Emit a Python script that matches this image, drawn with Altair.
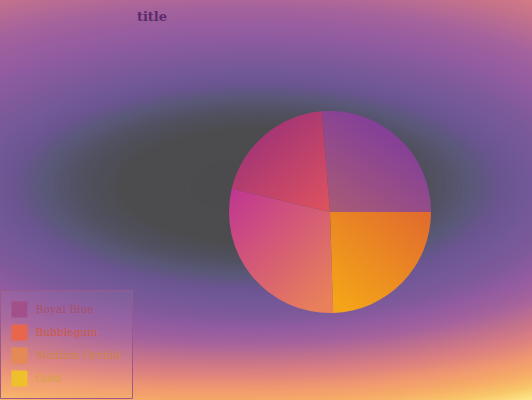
import math
import altair as alt
import numpy as np
import pandas as pd

# ---------------- data ----------------
TITLE = "title"
CATEGORIES = ["Royal Blue", "Bubblegum", "Medium Orchid", "Gold"]
SHARES = [26.3, 20.0, 29.2, 24.5]

# ---------------- styles ----------------
SWATCH_COLORS = ["#a2508a", "#e8664c", "#e58a56", "#eec12c"]
LABEL_COLORS = ["#a8506a", "#cf5c44", "#d08448", "#d4a43c"]
SLICE_GRADIENTS = [
    ((0.8, 0.0, 0.1, 1.0), "#7a38a2", "#a85a76"),
    ((0.2, 0.0, 1.0, 1.0), "#972f7a", "#e0525e"),
    ((0.0, 0.0, 0.8, 1.0), "#bf3592", "#e8805a"),
    ((1.0, 0.0, 0.2, 1.0), "#e06a2e", "#f4a418"),
]
# background gradient: colour stops by vertical radius (px) of the bands
BG_R = [0, 58, 75, 90, 103, 115, 130, 145, 160, 170, 188, 210, 232, 250, 268, 285, 300]
BG_COLORS = ["#4b4b4e", "#4c4c4f", "#505060", "#5a5878", "#6a5590", "#725898",
             "#7e5a9a", "#8e5ba0", "#9c5f9e", "#a6639c", "#c0708e", "#dc8080",
             "#f09870", "#f6aa68", "#f9c468", "#fde88a", "#fff6a0"]
BG_CENTER = (258.0, 186.0)
BG_ASPECT = 2.4
BG_DRIFT_START = 130.0
BG_DRIFT = (-0.45, -0.28)


def hex_rgb(h):
    h = h.lstrip("#")
    return [int(h[i:i + 2], 16) for i in (0, 2, 4)]


def band_path(p):
    ang = np.linspace(0, 2 * np.pi, 73)[:-1]
    c, s = np.cos(ang), np.sin(ang)
    xs = np.sign(c) * np.abs(c) ** (2 / p)
    ys = np.sign(s) * np.abs(s) ** (2 / p) / BG_ASPECT
    pts = ["{:.4f},{:.4f}".format(x, y) for x, y in zip(xs, ys)]
    return "M" + "L".join(pts) + "Z"


# background: stacked bands forming a smooth off-centre elliptical gradient
rgbs = [hex_rgb(c) for c in BG_COLORS]
rows = []
for k, r in enumerate(np.linspace(340, 1, 150)):
    rgb = [int(round(np.interp(r, BG_R, [c[i] for c in rgbs]))) for i in range(3)]
    drift = max(0.0, r - BG_DRIFT_START)
    p = 2.0 + 0.3 * float(np.clip((r - 120.0) / 90.0, 0.0, 1.0))
    rows.append({
        "k": k,
        "cx": BG_CENTER[0] + BG_DRIFT[0] * drift,
        "cy": BG_CENTER[1] + BG_DRIFT[1] * drift,
        "s": (2 * BG_ASPECT * r) ** 2,
        "c": "#%02x%02x%02x" % tuple(rgb),
        "shape": band_path(p),
    })
bg_df = pd.DataFrame(rows)

bg = alt.Chart(bg_df).mark_point(
    filled=True, opacity=1, strokeWidth=0
).encode(
    x=alt.X("cx:Q", scale=None, axis=None),
    y=alt.Y("cy:Q", scale=None, axis=None),
    size=alt.Size("s:Q", scale=None, legend=None),
    fill=alt.Fill("c:N", scale=None, legend=None),
    shape=alt.Shape("shape:N", scale=None, legend=None),
    order=alt.Order("k:Q"),
)

pie_df = pd.DataFrame({"category": CATEGORIES, "share": SHARES,
                       "idx": list(range(len(CATEGORIES)))})

conds = []
for cat, ((x1, y1, x2, y2), c0, c1) in zip(CATEGORIES, SLICE_GRADIENTS):
    conds.append({
        "test": f"datum.category === '{cat}'",
        "value": {"gradient": "linear", "x1": x1, "y1": y1, "x2": x2, "y2": y2,
                  "stops": [{"offset": 0, "color": c0}, {"offset": 1, "color": c1}]},
    })

label_expr = " : ".join(
    f"datum.value === '{c}' ? '{lc}'" for c, lc in zip(CATEGORIES, LABEL_COLORS)
) + " : '#a05060'"

pie = alt.Chart(pie_df).mark_arc(radius=101).encode(
    theta=alt.Theta("share:Q", stack=True,
                    scale=alt.Scale(range=[math.pi / 2, math.pi / 2 - 2 * math.pi])),
    order=alt.Order("idx:Q"),
    color=alt.Color(
        "category:N",
        sort=CATEGORIES,
        scale=alt.Scale(domain=CATEGORIES, range=SWATCH_COLORS),
        legend=alt.Legend(
            title=None, orient="none", legendX=0, legendY=290,
            symbolType="square", symbolSize=256, symbolStrokeWidth=0,
            symbolOpacity=1, rowPadding=7, labelOffset=8,
            labelFont="DejaVu Serif", labelFontSize=10.7, labelFontWeight="normal",
            labelColor={"expr": label_expr}, labelLimit=300,
            padding=11.5, strokeColor="#9a5a8e",
            fillColor="rgba(255,235,220,0.05)", cornerRadius=0,
        ),
        condition=conds,
    ),
    x=alt.value(330),
    y=alt.value(212),
)

title_df = pd.DataFrame({"t": [TITLE]})
title = alt.Chart(title_df).mark_text(
    font="DejaVu Serif", fontSize=13, fontWeight="bold", color="#5c2a6c",
    align="center", baseline="middle",
).encode(text="t:N", x=alt.value(152), y=alt.value(17))

chart = alt.layer(bg, pie, title).properties(
    width=532, height=400,
    autosize=alt.AutoSizeParams(type="none"),
    padding=0,
    background="#4b4b4e",
).configure_view(stroke=None)

chart.save("out.html", embed_options={"renderer": "svg", "actions": False})
